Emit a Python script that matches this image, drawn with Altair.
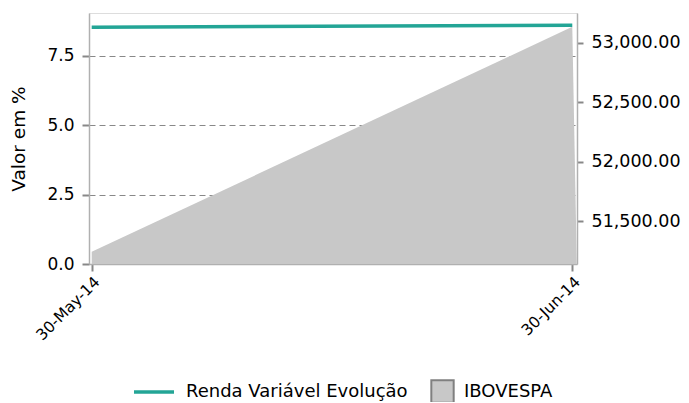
import altair as alt
import pandas as pd

# ---- data ----
line_dates = ["2014-05-30T00:00:00", "2014-06-30T00:00:00"]
line_values = [8.52, 8.59]          # Renda Variável Evolução (%)

area_dates = ["2014-05-30T00:00:00", "2014-06-30T00:00:00", "2014-06-30T07:00:00"]
area_values = [51244.0, 53134.0, 51142.0]   # IBOVESPA

left_ticks = [0.0, 2.5, 5.0, 7.5]
right_ticks = [51500, 52000, 52500, 53000]

line_df = pd.DataFrame({"date": line_dates, "valor": line_values,
                        "serie": ["Renda Variável Evolução"] * len(line_dates)})
area_df = pd.DataFrame({"date": area_dates, "ibov": area_values,
                        "serie": ["IBOVESPA"] * len(area_dates)})

TEAL = "#23a596"
GRAY = "#c8c8c8"
FONT = "DejaVu Sans"

x_scale = alt.Scale(domain=[alt.DateTime(year=2014, month=5, date=29, hours=19, minutes=48),
                            alt.DateTime(year=2014, month=6, date=30, hours=7, minutes=18)])
x_axis = alt.Axis(values=[alt.DateTime(year=2014, month=5, date=30),
                          alt.DateTime(year=2014, month=6, date=30)],
                  format="%d-%b-%y", labelAngle=-45, labelAlign="right",
                  labelBaseline="top", labelFontSize=15.5, labelPadding=3,
                  tickSize=7, tickWidth=2, tickColor="#888888", grid=False,
                  title=None, domainColor="#b0b0b0", domainWidth=1.5)

area = alt.Chart(area_df).mark_area(clip=True, color=GRAY, opacity=1).encode(
    x=alt.X("date:T", scale=x_scale, axis=x_axis),
    y=alt.Y("ibov:Q", scale=alt.Scale(domain=[51142, 53250], zero=False, nice=False),
            axis=alt.Axis(orient="right", values=right_ticks, format=",.2f", grid=False,
                          title=None, labelFontSize=17.5, labelPadding=8, tickSize=6,
                          tickWidth=2, tickColor="#888888", domainColor="#b0b0b0",
                          domainWidth=1.5)),
    fill=alt.Fill("serie:N", scale=alt.Scale(domain=["IBOVESPA"], range=[GRAY]),
                  legend=alt.Legend(title=None, orient="none", legendX=341, legendY=366,
                                    symbolType="square", symbolSize=500,
                                    symbolStrokeColor="#808080", symbolStrokeWidth=2,
                                    labelFontSize=18, labelOffset=9, labelLimit=0)),
)

line = alt.Chart(line_df).mark_line(strokeWidth=3.5).encode(
    x=alt.X("date:T", scale=x_scale, axis=x_axis),
    y=alt.Y("valor:Q", scale=alt.Scale(domain=[0, 9.03], nice=False),
            axis=alt.Axis(values=left_ticks, format=".1f", grid=True,
                          gridDash=[6, 4], gridColor="#888888", gridWidth=1,
                          title="Valor em %", titleFontSize=18.5, titleFontWeight="normal",
                          titlePadding=18, labelFontSize=17, labelPadding=8, tickSize=7,
                          tickWidth=2, tickColor="#888888", domainColor="#b0b0b0",
                          domainWidth=1.5)),
    stroke=alt.Stroke("serie:N", scale=alt.Scale(domain=["Renda Variável Evolução"], range=[TEAL]),
                      legend=alt.Legend(title=None, orient="none", legendX=43, legendY=357,
                                        symbolType="stroke", symbolSize=1600,
                                        symbolStrokeWidth=3.5, labelFontSize=18,
                                        labelOffset=10, labelLimit=0)),
)

chart = alt.layer(area, line).resolve_scale(y="independent").properties(
    width=488, height=251,
    autosize=alt.AutoSizeParams(type="none"),
    padding={"left": 81, "top": 5, "right": 104, "bottom": 138},
).configure_view(strokeWidth=0, stroke="transparent").configure(font=FONT).configure_axis(
    labelFont=FONT, titleFont=FONT, labelColor="#000000", titleColor="#000000"
).configure_legend(labelFont=FONT, labelColor="#000000")

chart.save("out.html", embed_options={"renderer": "svg", "actions": False})
